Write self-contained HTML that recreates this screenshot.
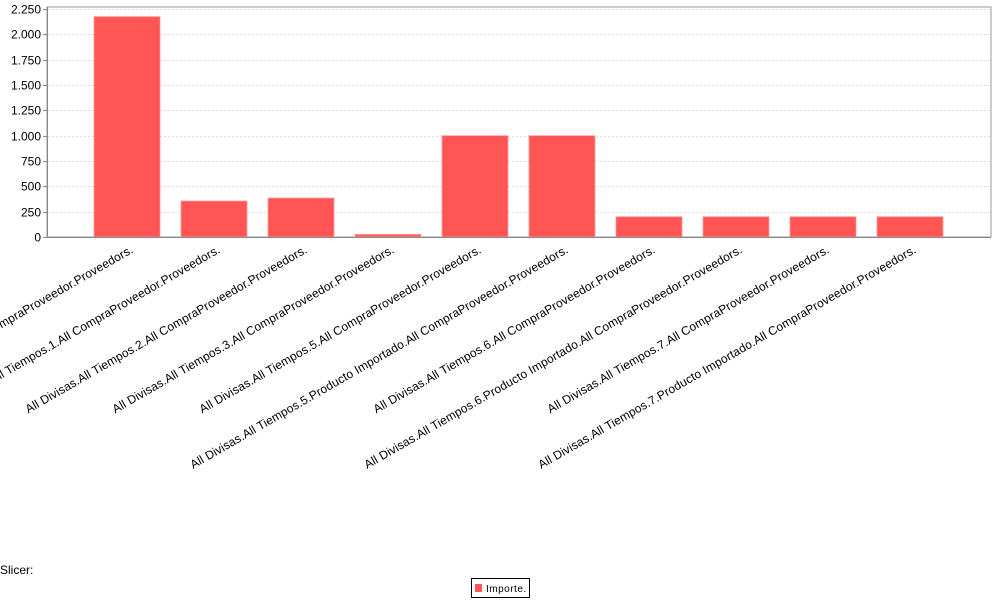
<!DOCTYPE html>
<html><head><meta charset="utf-8">
<style>
html,body{margin:0;padding:0;background:#fff;width:1000px;height:600px;overflow:hidden;font-family:"Liberation Sans",sans-serif;}
svg text{font-family:"Liberation Sans",sans-serif;}
</style></head>
<body>
<svg id="chart" width="1000" height="600" xmlns="http://www.w3.org/2000/svg">
<rect x="47" y="7" width="944" height="230" fill="#fff" stroke="#999" stroke-width="1"/>
<g id="grid"></g>
<g id="bars"></g>
<g id="yaxis"></g>
<g id="xlabels"></g>
<line x1="47" y1="237.5" x2="991" y2="237.5" stroke="#888"/>
<line x1="47.5" y1="7" x2="47.5" y2="237" stroke="#888"/>
<text x="0" y="574" font-size="12" fill="#000">Slicer:</text>
<g>
<rect x="471.5" y="578.5" width="58" height="19" fill="#fff" stroke="#000"/>
<rect x="475" y="584" width="7" height="8" fill="#ff5555"/>
<text x="486" y="592" font-size="10" fill="#000" letter-spacing="0.5">Importe.</text>
</g>
</svg>
<script>
const categories = [
"All Divisas.All Tiempos.All CompraProveedor.Proveedors.",
"All Divisas.All Tiempos.1.All CompraProveedor.Proveedors.",
"All Divisas.All Tiempos.2.All CompraProveedor.Proveedors.",
"All Divisas.All Tiempos.3.All CompraProveedor.Proveedors.",
"All Divisas.All Tiempos.5.All CompraProveedor.Proveedors.",
"All Divisas.All Tiempos.5.Producto Importado.All CompraProveedor.Proveedors.",
"All Divisas.All Tiempos.6.All CompraProveedor.Proveedors.",
"All Divisas.All Tiempos.6.Producto Importado.All CompraProveedor.Proveedors.",
"All Divisas.All Tiempos.7.All CompraProveedor.Proveedors.",
"All Divisas.All Tiempos.7.Producto Importado.All CompraProveedor.Proveedors."
];
const values = [2175, 355, 385, 25, 1000, 1000, 200, 200, 200, 200];
const yTicks = [0, 250, 500, 750, 1000, 1250, 1500, 1750, 2000, 2250];
const yTickLabels = ["0","250","500","750","1.000","1.250","1.500","1.750","2.000","2.250"];

const NS = "http://www.w3.org/2000/svg";
const plotBottom = 237, yMax = 2250, pxPerMax = 228;
function yScale(v){ return plotBottom - v / yMax * pxPerMax; }
const firstBar = 94, step = 87, barW = 66;
function xScale(i){ return firstBar + i * step; }

const grid = document.getElementById('grid');
const yaxis = document.getElementById('yaxis');
yTicks.forEach((t, i) => {
  const y = Math.round(yScale(t)) + 0.5;
  if (t > 0) {
    const l = document.createElementNS(NS, 'line');
    l.setAttribute('x1', 48); l.setAttribute('x2', 991);
    l.setAttribute('y1', y); l.setAttribute('y2', y);
    l.setAttribute('stroke', '#ddd'); l.setAttribute('stroke-dasharray', '2,2');
    
    
    grid.appendChild(l);
  }
  const tk = document.createElementNS(NS, 'line');
  tk.setAttribute('x1', 43); tk.setAttribute('x2', 47);
  tk.setAttribute('y1', y); tk.setAttribute('y2', y);
  tk.setAttribute('stroke', '#888');
  
  
  yaxis.appendChild(tk);
  const tx = document.createElementNS(NS, 'text');
  tx.setAttribute('x', 41); tx.setAttribute('y', y + 4);
  tx.setAttribute('text-anchor', 'end'); tx.setAttribute('font-size', '12');
  tx.textContent = yTickLabels[i];
  
  
  yaxis.appendChild(tx);
});

const bars = document.getElementById('bars');
const xl = document.getElementById('xlabels');
values.forEach((v, i) => {
  const x = xScale(i), y = yScale(v);
  const r = document.createElementNS(NS, 'rect');
  r.setAttribute('x', x); r.setAttribute('y', y);
  r.setAttribute('width', barW); r.setAttribute('height', plotBottom - y);
  r.setAttribute('fill', '#ff5555');
  r.setAttribute('stroke', '#ff9a9a'); r.setAttribute('stroke-width', '0.8');
  
  
  bars.appendChild(r);
  const cx = x + barW / 2 + 7;
  const cy = 252;
  const t = document.createElementNS(NS, 'text');
  t.setAttribute('x', cx); t.setAttribute('y', cy);
  t.setAttribute('text-anchor', 'end'); t.setAttribute('font-size', '12');
  t.setAttribute('letter-spacing', '0.12');
  t.setAttribute('transform', 'rotate(-30 ' + cx + ' ' + cy + ')');
  t.textContent = categories[i];
  
  
  xl.appendChild(t);
});
</script>
</body></html>
